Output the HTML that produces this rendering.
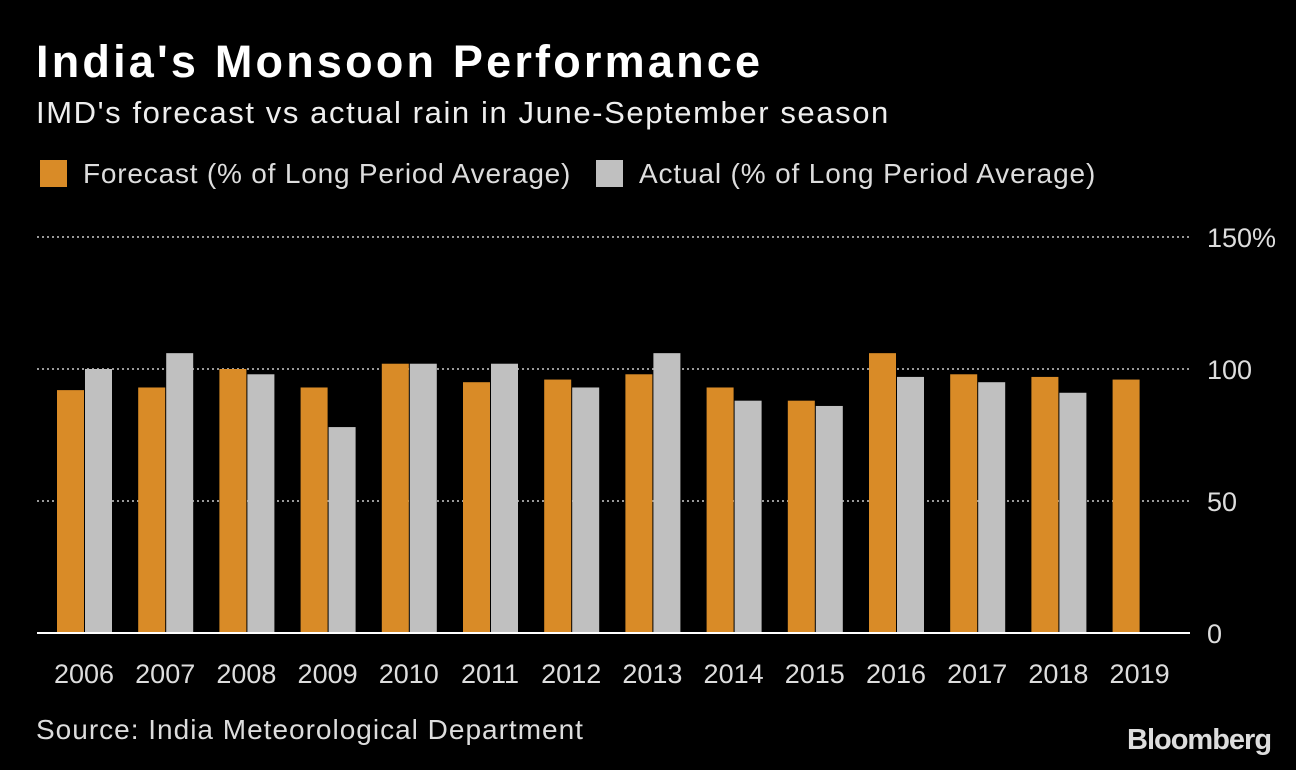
<!DOCTYPE html>
<html><head><meta charset="utf-8"><style>
body{margin:0;background:#000;width:1296px;height:770px;overflow:hidden;font-family:"Liberation Sans",sans-serif;color:#fff}
.t{position:absolute;white-space:nowrap}
</style></head><body>
<div class="t" style="left:36px;top:36px;font-size:45px;font-weight:bold;letter-spacing:3.2px">India's Monsoon Performance</div>
<div class="t" style="left:36px;top:95px;font-size:31px;color:#eee;letter-spacing:1.6px">IMD's forecast vs actual rain in June-September season</div>
<div class="t" style="left:40px;top:158px;font-size:28px;color:#ddd;letter-spacing:0.8px"><span style="display:inline-block;width:27px;height:27px;background:#d98b27;vertical-align:-4px;margin-right:16px"></span>Forecast (% of Long Period Average)</div>
<div class="t" style="left:596px;top:158px;font-size:28px;color:#ddd;letter-spacing:0.85px"><span style="display:inline-block;width:27px;height:27px;background:#c0c0c0;vertical-align:-4px;margin-right:16px"></span>Actual (% of Long Period Average)</div>
<svg id="c" width="1296" height="770" style="position:absolute;left:0;top:0"></svg>
<div class="t" style="left:36px;top:714px;font-size:28px;color:#ddd;letter-spacing:1px">Source: India Meteorological Department</div>
<div class="t" style="left:1127px;top:724px;font-size:29px;font-weight:bold;color:#ddd;letter-spacing:-1px">Bloomberg</div>
<script>
const years=["2006","2007","2008","2009","2010","2011","2012","2013","2014","2015","2016","2017","2018","2019"];
const forecast=[92,93,100,93,102,95,96,98,93,88,106,98,97,96];
const actual=[100,106,98,78,102,102,93,106,88,86,97,95,91,null];
const ticks=[0,50,100,150];
const tickLabels=["0","50","100","150%"];
const svg=document.getElementById('c');const NS="http://www.w3.org/2000/svg";
const y=v=>633-v*2.64;const x=i=>84+i*81.2;
function mk(t,a){const e=document.createElementNS(NS,t);for(const k in a)e.setAttribute(k,a[k]);svg.appendChild(e);return e;}
ticks.forEach((v,i)=>{
 if(v>0){const l=mk('line',{x1:37,x2:1190,y1:y(v),y2:y(v),stroke:'#999','stroke-width':2,'stroke-dasharray':'2,3'});
 
 }
 const t=mk('text',{x:1207,y:y(v)+10,fill:'#ddd','font-size':27,'font-family':'Liberation Sans, sans-serif'});t.textContent=tickLabels[i];
 
 
});
years.forEach((yr,i)=>{
 const f=mk('rect',{x:x(i)-27,y:y(forecast[i]),width:27,height:633-y(forecast[i]),fill:'#d98b27'});
 
 
 if(actual[i]!=null){const a=mk('rect',{x:x(i)+1,y:y(actual[i]),width:27,height:633-y(actual[i]),fill:'#c0c0c0'});
 
 }
 const t=mk('text',{x:x(i),y:683,fill:'#ddd','font-size':27,'text-anchor':'middle','font-family':'Liberation Sans, sans-serif'});t.textContent=yr;
 
 
});
const b=mk('line',{x1:37,x2:1190,y1:633,y2:633,stroke:'#fff','stroke-width':2});


</script>
</body></html>
